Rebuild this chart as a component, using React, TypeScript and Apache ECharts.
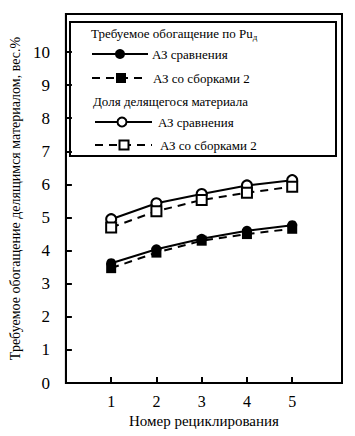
import React, { useEffect, useRef } from "react";
import * as echarts from "echarts";

const cycles = [1, 2, 3, 4, 5];
const puRef = [3.62, 4.04, 4.36, 4.6, 4.77];
const puAsm = [3.47, 3.94, 4.3, 4.5, 4.66];
const fisRef = [4.95, 5.43, 5.71, 5.97, 6.13];
const fisAsm = [4.7, 5.19, 5.53, 5.75, 5.93];
const yTicks = [0, 1, 2, 3, 4, 5, 6, 7, 8, 9, 10];

const FONT = "'Liberation Serif', 'Times New Roman', 'DejaVu Serif', serif";

export default function App() {
  const ref = useRef<HTMLDivElement>(null);
  useEffect(() => {
    const chart = echarts.init(ref.current!, null, { renderer: "svg" });
    const pts = (vals: number[]) => cycles.map((c, i) => [c, vals[i]]);
    const lineStyleSolid = { color: "#000", width: 2, type: "solid" as const };
    const lineStyleDash = { color: "#000", width: 2, type: [8, 6] as any };
    const txt = { fill: "#000", fontFamily: FONT, fontSize: 13, verticalAlign: "middle" as const };
    chart.setOption({
      animation: false,
      backgroundColor: "#fff",
      textStyle: { fontFamily: FONT },
      grid: { left: 60, right: 13, top: 14, bottom: 53, show: true, borderColor: "#000", borderWidth: 2, backgroundColor: "transparent" },
      xAxis: {
        type: "value",
        min: 0,
        max: 6.1,
        interval: 1,
        name: "Номер рециклирования",
        nameLocation: "middle",
        nameGap: 30,
        nameTextStyle: { fontFamily: FONT, fontSize: 15, color: "#000" },
        axisLine: { show: true, lineStyle: { color: "#000", width: 2 } },
        axisTick: { show: true, inside: true, length: 6, lineStyle: { color: "#000", width: 2 }, customValues: cycles },
        axisLabel: { fontFamily: FONT, fontSize: 16, color: "#000", margin: 10, customValues: cycles },
        splitLine: { show: false },
      },
      yAxis: {
        type: "value",
        min: 0,
        max: 11.15,
        interval: 1,
        name: "Требуемое обогащение делящимся материалом, вес.%",
        nameLocation: "middle",
        nameGap: 40,
        nameTextStyle: { fontFamily: FONT, fontSize: 14, color: "#000" },
        axisLine: { show: true, lineStyle: { color: "#000", width: 2 } },
        axisTick: { show: true, inside: true, length: 6, lineStyle: { color: "#000", width: 2 }, customValues: yTicks.slice(1) },
        axisLabel: { fontFamily: FONT, fontSize: 17, color: "#000", margin: 16, customValues: yTicks },
        splitLine: { show: false },
      },
      series: [
        {
          type: "line", data: pts(puRef), symbol: "circle", symbolSize: 10,
          lineStyle: lineStyleSolid, itemStyle: { color: "#000" },
        },
        {
          type: "line", data: pts(puAsm), symbol: "rect", symbolSize: 10,
          lineStyle: lineStyleDash, itemStyle: { color: "#000" },
        },
        {
          type: "line", data: pts(fisRef), symbol: "circle", symbolSize: 10,
          lineStyle: lineStyleSolid, itemStyle: { color: "#fff", borderColor: "#000", borderWidth: 2 },
        },
        {
          type: "line", data: pts(fisAsm), symbol: "rect", symbolSize: 10,
          lineStyle: lineStyleDash, itemStyle: { color: "#fff", borderColor: "#000", borderWidth: 2 },
        },
      ],
      graphic: [
        { type: "rect", shape: { x: 70, y: 22, width: 266, height: 134 }, style: { fill: "#fff", stroke: "#000", lineWidth: 2 } },
        {
          type: "text", x: 91, y: 33,
          style: {
            ...txt,
            text: "Требуемое обогащение по Pu{s|д}",
            rich: { s: { fontFamily: FONT, fontSize: 9, fill: "#000", padding: [8, 0, 0, 0] } },
          },
        },
        { type: "line", shape: { x1: 92, y1: 54, x2: 148, y2: 54 }, style: { stroke: "#000", lineWidth: 2 } },
        { type: "circle", shape: { cx: 120, cy: 54, r: 5 }, style: { fill: "#000" } },
        { type: "text", x: 152, y: 54, style: { ...txt, text: "АЗ сравнения" } },
        { type: "line", shape: { x1: 92, y1: 78, x2: 148, y2: 78 }, style: { stroke: "#000", lineWidth: 2, lineDash: [8, 6] } },
        { type: "rect", shape: { x: 116, y: 73, width: 10, height: 10 }, style: { fill: "#000" } },
        { type: "text", x: 153, y: 78, style: { ...txt, text: "АЗ со сборками 2" } },
        { type: "text", x: 93, y: 101, style: { ...txt, text: "Доля делящегося материала" } },
        { type: "line", shape: { x1: 95, y1: 122, x2: 152, y2: 122 }, style: { stroke: "#000", lineWidth: 2 } },
        { type: "circle", shape: { cx: 122, cy: 122, r: 4.5 }, style: { fill: "#fff", stroke: "#000", lineWidth: 2 } },
        { type: "text", x: 158, y: 122, style: { ...txt, text: "АЗ сравнения" } },
        { type: "line", shape: { x1: 95, y1: 145, x2: 152, y2: 145 }, style: { stroke: "#000", lineWidth: 2, lineDash: [8, 6] } },
        { type: "rect", shape: { x: 119.5, y: 140.5, width: 9, height: 9 }, style: { fill: "#fff", stroke: "#000", lineWidth: 2 } },
        { type: "text", x: 160, y: 145, style: { ...txt, text: "АЗ со сборками 2" } },
      ],
    });
    return () => chart.dispose();
  }, []);
  return <div ref={ref} style={{ width: 355, height: 436, position: "absolute", left: 0, top: 0 }} />;
}
